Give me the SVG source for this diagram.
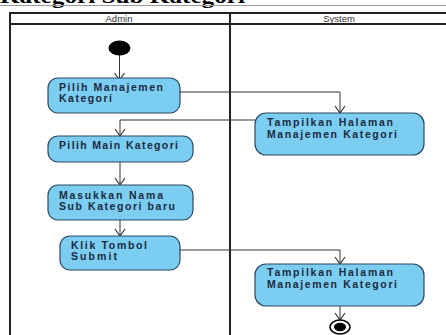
<svg xmlns="http://www.w3.org/2000/svg" width="446" height="335" viewBox="0 0 446 335">
<style>
.pool{fill:none;stroke:#222;stroke-width:2}
.hdr{font-family:"Liberation Sans",Arial,sans-serif;font-size:9.5px;fill:#333;text-anchor:middle}
.act{fill:#7ccdf2;stroke:#2b4863;stroke-width:1.2}
.lbl{font-family:"Liberation Sans",Arial,sans-serif;font-size:10.5px;font-weight:bold;fill:#1a2a40}
.con{fill:none;stroke:#333;stroke-width:1;marker-end:url(#arr)}
</style>
<defs>
<marker id="arr" markerWidth="12" markerHeight="12" refX="6" refY="9" orient="0" markerUnits="userSpaceOnUse">
<path d="M1,2 L6,9 L11,2" fill="none" stroke="#333" stroke-width="1.2"/>
</marker>
</defs>
<rect width="446" height="335" fill="#fff"/>
<text x="0" y="3" font-family="'Liberation Serif',serif" font-size="20" font-weight="bold" textLength="245" lengthAdjust="spacingAndGlyphs">Kategori Sub Kategori</text>
<line x1="0" y1="5.5" x2="446" y2="5.5" stroke="#999" stroke-width="1"/>
<g id="pool">
<path class="pool" d="M10,340 V13 H450 M10,24 H450 M230,13 V340"/>
<text class="hdr" x="119" y="21.5">Admin</text>
<text class="hdr" x="339" y="21.5">System</text>
</g>
<g id="connectors">
<path class="con" d="M119.5,55 V80"/>
<path class="con" d="M180,92 H340 V113" stroke="#777"/>
<path class="con" d="M255,120 H120 V136"/>
<path class="con" d="M120,162 V185"/>
<path class="con" d="M120,220 V236"/>
<path class="con" d="M180,250 H340 V264"/>
<path class="con" d="M340,306 V320"/>
</g>
<g id="start"><ellipse cx="119.5" cy="48" rx="11" ry="7.5" fill="#000"/></g>
<g id="n1"><rect class="act" x="48" y="78" width="132" height="35" rx="10"/>
<text class="lbl" x="59" y="90.5" textLength="104" lengthAdjust="spacing">Pilih Manajemen</text>
<text class="lbl" x="59" y="101.5" textLength="53" lengthAdjust="spacing">Kategori</text></g>
<g id="s1"><rect class="act" x="255" y="113" width="169" height="42" rx="11"/>
<text class="lbl" x="267" y="126" textLength="126" lengthAdjust="spacing">Tampilkan Halaman</text>
<text class="lbl" x="267" y="137.5" textLength="130" lengthAdjust="spacing">Manajemen Kategori</text></g>
<g id="n2"><rect class="act" x="48" y="136" width="145" height="26" rx="10"/>
<text class="lbl" x="59" y="148.5" textLength="119" lengthAdjust="spacing">Pilih Main Kategori</text></g>
<g id="n3"><rect class="act" x="48" y="185" width="145" height="35" rx="10"/>
<text class="lbl" x="59" y="198.5" textLength="104" lengthAdjust="spacing">Masukkan Nama</text>
<text class="lbl" x="59" y="209.5" textLength="116" lengthAdjust="spacing">Sub Kategori baru</text></g>
<g id="n4"><rect class="act" x="60" y="236" width="120" height="34" rx="10"/>
<text class="lbl" x="71" y="248.5" textLength="76" lengthAdjust="spacing">Klik Tombol</text>
<text class="lbl" x="71" y="259.5" textLength="46" lengthAdjust="spacing">Submit</text></g>
<g id="s2"><rect class="act" x="255" y="264" width="169" height="42" rx="11"/>
<text class="lbl" x="267" y="275.5" textLength="126" lengthAdjust="spacing">Tampilkan Halaman</text>
<text class="lbl" x="267" y="287.5" textLength="130" lengthAdjust="spacing">Manajemen Kategori</text></g>
<g id="end"><ellipse cx="340" cy="327" rx="10" ry="7" fill="#fff" stroke="#000" stroke-width="1.5"/>
<ellipse cx="340" cy="327" rx="6" ry="4.2" fill="#000"/></g>
</svg>
